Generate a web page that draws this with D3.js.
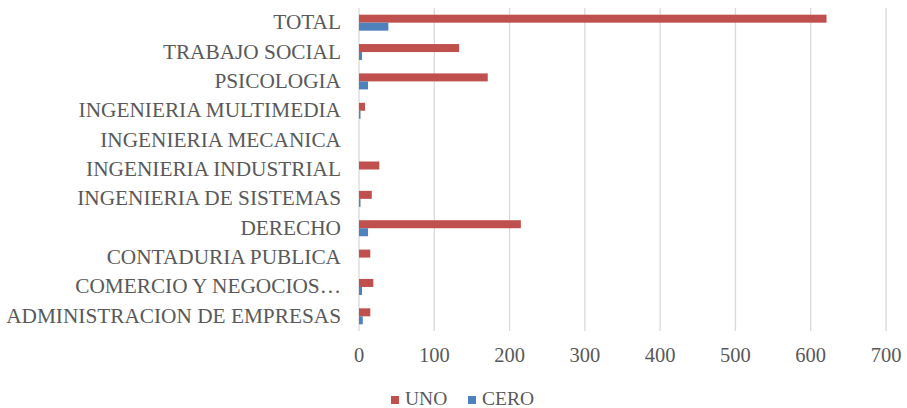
<!DOCTYPE html>
<html lang="es">
<head>
<meta charset="utf-8">
<title>UNO / CERO por programa</title>
<script src="https://d3js.org/d3.v7.min.js"></script>
<style>
  body { margin: 0; background: #fff; }
</style>
</head>
<body>
<script>
// datos (de arriba hacia abajo)
var categories = ["TOTAL", "TRABAJO SOCIAL", "PSICOLOGIA", "INGENIERIA MULTIMEDIA",
  "INGENIERIA MECANICA", "INGENIERIA INDUSTRIAL", "INGENIERIA DE SISTEMAS", "DERECHO",
  "CONTADURIA PUBLICA", "COMERCIO Y NEGOCIOS…", "ADMINISTRACION DE EMPRESAS"];
var uno  = [621, 133, 171, 8, 0, 27, 17, 215, 15, 19, 15];
var cero = [39, 4, 12, 2, 0, 0, 2, 12, 0, 4, 5];
var ticks = [0, 100, 200, 300, 400, 500, 600, 700];
var series = [
  { name: "UNO", values: uno, color: "#C0504D" },
  { name: "CERO", values: cero, color: "#4F81BD" }
];

var w = 907, h = 408;
var font = "'Liberation Serif', 'Times New Roman', serif";
var textColor = "#595959";
var svg = d3.select("body").append("svg").attr("width", w).attr("height", h);

var x = d3.scaleLinear().domain([0, 700]).range([359, 886]);
var y = d3.scaleBand().domain(categories).range([8, 331]);
var inner = d3.scaleBand().domain(series.map(function(s){ return s.name; }))
  .range([y.bandwidth() / 2 - 8, y.bandwidth() / 2 + 8]);

// rejilla vertical
svg.append("g").selectAll("line").data(ticks).enter().append("line")
  .attr("x1", function(d){ return x(d); }).attr("x2", function(d){ return x(d); })
  .attr("y1", 8).attr("y2", 331)
  .attr("stroke", "#D9D9D9").attr("stroke-width", 1.3);

// barras
series.forEach(function(s) {
  svg.append("g").selectAll("rect").data(s.values).enter().append("rect")
    .attr("x", x(0))
    .attr("y", function(d, i){ return y(categories[i]) + inner(s.name); })
    .attr("width", function(d){ return x(d) - x(0); })
    .attr("height", inner.bandwidth())
    .attr("fill", s.color);
});

// etiquetas de categorias
svg.append("g").selectAll("text").data(categories).enter().append("text")
  .attr("x", 341)
  .attr("y", function(d){ return y(d) + y.bandwidth() / 2 + 6.5; })
  .attr("text-anchor", "end")
  .attr("font-family", font).attr("font-size", 21.3).attr("fill", textColor)
  .text(function(d){ return d; });

// etiquetas del eje x
svg.append("g").selectAll("text").data(ticks).enter().append("text")
  .attr("x", function(d){ return x(d); })
  .attr("y", 362)
  .attr("text-anchor", "middle")
  .attr("font-family", font).attr("font-size", 20.5).attr("fill", textColor)
  .text(function(d){ return d; });

// leyenda
var leg = svg.append("g").selectAll("g").data(series).enter().append("g")
  .attr("transform", function(d, i){ return "translate(" + (391 + i * 77) + ",0)"; });
leg.append("rect").attr("x", 0).attr("y", 396).attr("width", 8).attr("height", 8)
  .attr("fill", function(d){ return d.color; });
leg.append("text").attr("x", 14).attr("y", 404.5)
  .attr("font-family", font).attr("font-size", 19.5).attr("fill", textColor)
  .text(function(d){ return d.name; });
</script>
</body>
</html>
